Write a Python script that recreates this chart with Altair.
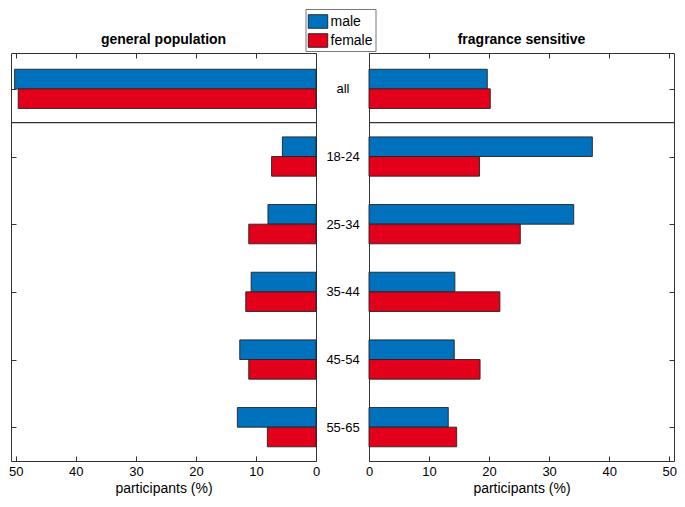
import altair as alt
import pandas as pd

categories = ["all", "18-24", "25-34", "35-44", "45-54", "55-65"]
sexes = ["male", "female"]
general_male = [50.2, 5.6, 8.0, 10.8, 12.7, 13.1]
general_female = [49.6, 7.4, 11.2, 11.7, 11.2, 8.1]
sensitive_male = [19.7, 37.2, 34.1, 14.3, 14.2, 13.2]
sensitive_female = [20.2, 18.4, 25.2, 21.8, 18.5, 14.6]
x_ticks = [0, 10, 20, 30, 40, 50]
separator = [0.5]  # boundary between "all" and the age groups

BLUE = "#0072BD"
RED = "#E3001B"
FONT = "Liberation Sans"
BAR = 0.29
W = 305
H = 408
GAP = 53


def make_df(male, female):
    rows = []
    for i, c in enumerate(categories):
        rows.append(dict(cat=c, idx=i, sex="male", value=male[i]))
        rows.append(dict(cat=c, idx=i, sex="female", value=female[i]))
    return pd.DataFrame(rows)


label_expr = "[" + ",".join(f"'{c}'" for c in categories) + "][datum.value]"
y_scale = alt.Scale(domain=[-0.53, 5.5], reverse=True, nice=False, zero=False)
color_scale = alt.Scale(domain=sexes, range=[BLUE, RED])


def tick_axis(orient, values):
    return alt.Axis(orient=orient, values=values, labels=False, domain=False,
                    ticks=True, tickSize=5, offset=-5, title=None, grid=False,
                    tickColor="#333", tickWidth=1)


def panel(male, female, title, reverse, side):
    df = make_df(male, female)
    x_scale = alt.Scale(domain=[0, 50.8], reverse=reverse, nice=False, zero=True)
    base = alt.Chart(df).transform_calculate(
        y0=f"datum.idx - (datum.sex == 'male' ? {BAR} : 0)"
    ).transform_calculate(y1=f"datum.y0 + {BAR}")

    bottom_axis = alt.Axis(orient="bottom", values=x_ticks, format="d", domain=False,
                           tickSize=5, offset=-5, labelPadding=4, labelFontSize=13,
                           labelFont=FONT, labelColor="#000", labelFlush=False,
                           tickColor="#333", grid=False,
                           title="participants (%)", titleFontSize=14, titleFont=FONT,
                           titleFontWeight="normal", titleColor="#000", titlePadding=3)

    y_main_axis = tick_axis(side, list(range(len(categories))))

    bars = base.mark_rect(stroke="#222", strokeWidth=0.9).encode(
        x=alt.X("value:Q", scale=x_scale, axis=bottom_axis),
        x2=alt.datum(0),
        y=alt.Y("y0:Q", scale=y_scale, axis=y_main_axis),
        y2="y1:Q",
        color=alt.Color("sex:N", scale=color_scale, legend=alt.Legend(
            orient="none", legendX=W + GAP / 2 - 37, legendY=-44, title=None,
            symbolType="M-1,-0.7H1V0.7H-1Z", symbolSize=380,
            symbolStrokeColor="#111", symbolStrokeWidth=0.8, symbolOpacity=1,
            labelFontSize=14, labelFont=FONT, labelColor="#000", labelOffset=2,
            padding=2, rowPadding=0, strokeColor="#777", fillColor="white",
            cornerRadius=0)),
    )

    if side == "left":
        ghost_y_axis = alt.Axis(orient="right", values=list(range(len(categories))),
                                labelExpr=label_expr, labelAlign="center",
                                labelBaseline="middle", labelPadding=GAP / 2,
                                ticks=False, tickSize=0, domain=False, title=None,
                                grid=False, labelFontSize=13, labelFont=FONT,
                                labelColor="#000")
    else:
        ghost_y_axis = None

    ghost = base.mark_rect(opacity=0).encode(
        x=alt.X("value:Q", scale=x_scale, axis=tick_axis("top", x_ticks)),
        x2=alt.datum(0),
        y=alt.Y("y0:Q", scale=y_scale, axis=ghost_y_axis),
        y2="y1:Q",
    )

    sep = alt.Chart(pd.DataFrame({"sep": separator})).mark_rule(
        color="#333", strokeWidth=1.2
    ).encode(y=alt.Y("sep:Q", scale=y_scale, axis=None))

    return alt.layer(bars, ghost, sep).resolve_axis(
        x="independent", y="independent"
    ).properties(
        width=W, height=H,
        title=alt.Title(title, fontSize=14, fontWeight="bold", font=FONT,
                        color="#000", offset=6, anchor="middle"),
    )


left = panel(general_male, general_female, "general population", True, "left")
right = panel(sensitive_male, sensitive_female, "fragrance sensitive", False, "right")

chart = alt.hconcat(left, right, spacing=GAP, bounds="flush").properties(
    padding=0
).configure_view(stroke="#333", strokeWidth=1)

chart.save("out.html", embed_options={"renderer": "svg", "actions": False})
